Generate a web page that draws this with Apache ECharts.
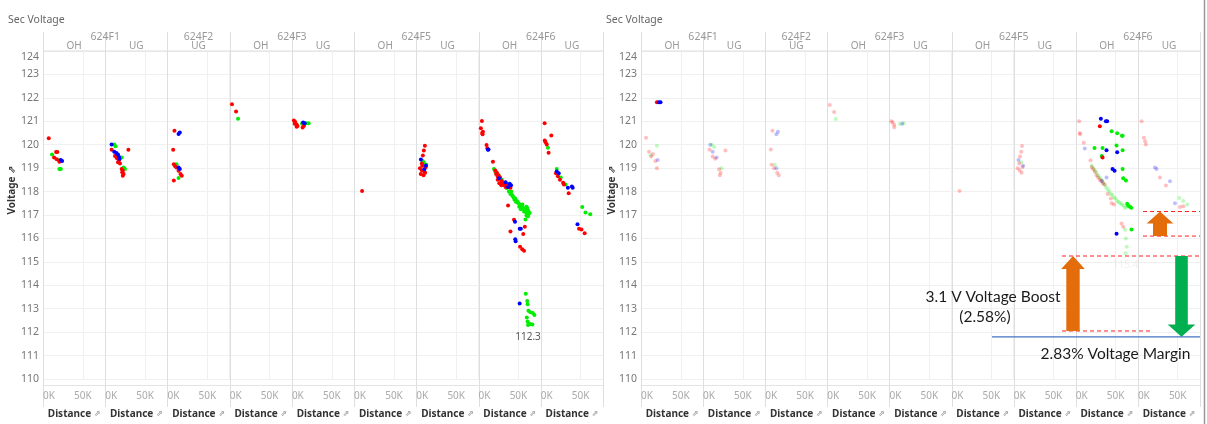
<!DOCTYPE html>
<html>
<head>
<meta charset="utf-8">
<script src="https://cdn.jsdelivr.net/npm/echarts@6/dist/echarts.min.js"></script>
<style>
  html, body { margin: 0; padding: 0; background: #fff; }
  #chart { width: 1207px; height: 424px; }
</style>
</head>
<body>
<div id="chart"></div>
<script>
// ---- categories --------------------------------------------------------
const facetFeeder = ['624F1', '624F1', '624F2', '624F3', '624F3', '624F5', '624F5', '624F6', '624F6'];
const facetType   = ['OH', 'UG', 'UG', 'OH', 'UG', 'OH', 'UG', 'OH', 'UG'];
const voltageRange  = [110, 124];   // V
const distanceRange = [0, 78];      // thousands of feet
const distanceTickStep = 50;

// ---- readings: [facet index, distance (K), secondary voltage] ----------
// Before: phases A (red), B (green), C (blue)
const phaseA_before = [
  [0,7.2,120.28],[0,16.4,119.69],[0,18,119.69],[0,13.9,119.45],[0,17.2,119.38],[0,20.5,119.27],
  [1,8,119.78],[1,12.2,119.52],[1,14.7,119.42],[1,17.3,119.34],[1,29,119.78],[1,16,119.25],[1,18.5,119.2],
  [1,20.6,118.96],[1,22,118.89],[1,21.3,118.82],[1,23,118.75],[1,22,118.68],
  [2,8.8,120.6],[2,7.2,119.78],[2,8,119.17],[2,9.7,119.08],[2,11.3,119.03],[2,13.9,118.89],[2,16.4,118.75],[2,18,118.68],[2,8,118.47],
  [3,2.9,121.73],[3,8,121.42],
  [4,2.5,121.03],[4,4.2,120.97],[4,5.9,120.86],[4,5.9,120.77],[4,13.5,120.74],[4,15.1,120.81],[4,3.5,120.9],[4,7,120.8],
  [5,10,118.02],
  [6,10.7,119.96],[6,9.4,119.75],[6,8.2,119.54],[6,6.9,119.2],[6,4.5,119.0],[6,7,118.9],[6,10,118.85],[6,12,119.05],
  [6,5.5,118.75],[6,9,118.7],[6,11,118.8],[6,7.5,119.1],
  [7,4.2,121.01],[7,2.9,120.7],[7,4.5,120.5],[7,5,120.45],[7,5.5,120.55],[7,10,119.99],[7,11,119.85],[7,18,119.27],
  [7,21,118.9],[7,23,118.8],[7,25,118.7],[7,27,118.6],[7,24,118.5],[7,28.5,118.27],[7,32,118.3],[7,34,118.2],[7,37,118.18],
  [7,40,118.16],[7,26,118.35],[7,22,118.75],[7,24,118.65],[7,29,118.45],[7,31,118.35],[7,33,118.25],[7,35,118.3],[7,38,118.25],
  [7,37,117.41],[7,44.4,116.8],[7,40,116.3],[7,58,116.5],[7,56,116.19],
  [7,52,115.65],[7,54.8,115.54],[7,57,115.47],
  [8,4.8,120.92],[8,13.2,120.39],[8,5,120.18],[8,6,120.1],[8,7.5,120.01],[8,9.8,119.66],[8,19,118.78],[8,21.5,118.65],
  [8,24,118.5],[8,28,118.38],[8,29,118.3],[8,35,117.93],[8,48,116.41],[8,51,116.38],[8,55,116.22]
];
const phaseB_before = [
  [0,11.3,119.58],[0,19.8,119.34],[0,20.5,118.96],[0,22.3,118.96],
  [1,11.3,120.01],[1,13,119.93],[1,15.5,119.57],[1,20.6,119.45],[1,23,119.03],[1,24.8,118.96],
  [2,11.3,119.17],[2,13.9,118.58],
  [3,10.5,121.11],
  [4,12.6,120.89],[4,17.6,120.92],[4,21,120.92],
  [6,9.4,119.24],[6,12.5,119.15],[6,8,119.3],
  [7,19.3,118.96],[7,21,118.85],[7,23,118.75],[7,26,118.55],[7,29,118.5],[7,22,118.8],[7,25,118.7],[7,31,118.4],[7,33,118.3],
  [7,35,118.15],[7,38,118.0],[7,40,117.9],[7,41,118.0],[7,43,117.8],[7,45,117.65],[7,47,117.55],[7,49,117.55],
  [7,42,117.85],[7,44,117.75],[7,46,117.7],[7,48,117.6],[7,50,117.5],[7,52,117.45],[7,54,117.35],[7,56,117.3],
  [7,53,117.25],[7,57,117.15],[7,59,117.25],[7,61,117.3],[7,64,117.1],[7,62,116.95],[7,60,116.98],
  [7,58,117.2],[7,60,117.1],[7,62,117.2],[7,63,117.05],[7,55,117.45],[7,51,117.35],[7,60,117.35],[7,58.8,116.81],
  [7,59.2,113.64],[7,61,113.33],[7,61.5,113.19],[7,62.5,112.91],[7,65,112.85],[7,68,112.82],[7,70,112.73],
  [7,60.5,112.63],[7,61.5,112.45],[7,63.5,112.36],[7,65.5,112.34],[7,67.5,112.33],[7,62,112.3],
  [8,9,119.87],[8,20,118.96],[8,25,118.6],[8,31,118.3],[8,52,117.34],[8,56,117.11],[8,62,117.03]
];
const phaseC_before = [
  [0,22.3,119.35],[0,23.9,119.31],
  [1,8,120.01],[1,11.3,119.70],[1,13.9,119.65],[1,17.3,119.48],[1,18,119.40],[1,16,119.58],
  [2,13.9,120.46],[2,15.5,120.52],[2,13.9,119.03],[2,15.5,118.96],
  [4,16,120.92],[4,14,120.95],
  [6,5.7,119.37],[6,12,119.11],[6,10,118.95],
  [7,11.7,119.78],[7,12.5,119.8],[7,25.6,118.57],[7,34,118.4],[7,39,118.33],[7,40.7,118.27],[7,37,118.19],
  [7,45.7,116.71],[7,51.6,116.41],[7,53,116.41],[7,46,115.96],[7,46.5,115.88],[7,51.5,113.22],
  [8,20,118.86],[8,22.5,118.78],[8,34,118.16],[8,39,118.22],[8,40,118.16],[8,46,116.61]
];

// After: earlier readings kept as a faded backdrop, plus the new readings
const phaseA_faded = [
  [0,6.3,120.3],[0,10,119.7],[0,13,119.5],[0,15,119.6],[0,18,119.3],[0,20,119.0],
  [1,8,119.78],[1,12,119.5],[1,15,119.4],[1,20,118.95],[1,22,118.8],[1,21,118.7],[1,28,119.75],
  [2,9,120.6],[2,7,119.8],[2,8,119.15],[2,11,119.0],[2,15,118.8],[2,17,118.7],
  [3,3,121.7],[3,8.5,121.4],
  [4,2.5,121.0],[4,4,120.95],[4,6,120.85],[4,6,120.75],
  [5,10,118.02],
  [6,10.5,119.95],[6,9.5,119.7],[6,8,119.5],[6,7,119.2],[6,5,119.0],[6,7.5,118.9],[6,10,118.8],[6,11,119.05],
  [7,4.2,121.0],[7,5,120.5],[7,5.5,120.45],[7,10,120.08],[7,18.5,119.34],[7,22,118.95],[7,26,118.7],[7,30,118.5],
  [7,34,118.35],[7,40,117.9],[7,45,117.5],[7,57.5,116.64],[7,59.6,116.5],
  [7,20,119.05],[7,24,118.85],[7,28,118.6],[7,32,118.45],[7,36,118.3],[7,44,117.7],[7,48,117.45],
  [8,4.6,121.0],[8,7.5,120.3],[8,9,120.15],[8,10,120.01],[8,27.7,118.6],[8,35.2,118.26],[8,52.9,117.34],[8,57,117.37]
];
const phaseB_faded = [
  [0,20,119.96],[0,12,119.55],
  [1,11,120.0],[1,14,119.9],[1,23,119.0],
  [2,12,119.15],
  [3,10.5,121.1],
  [4,13,120.88],[4,18,120.92],
  [6,9.5,119.25],
  [7,20,119.1],[7,24,118.9],[7,28,118.7],[7,32,118.5],[7,36,118.3],[7,40,118.1],[7,44,117.9],[7,48,117.75],
  [7,52,117.6],[7,56,117.5],[7,60,117.4],[7,64,117.35],[7,62,116.37],[7,63,116.0],[7,64,115.65],[7,62.6,115.37],
  [7,22,119.0],[7,26,118.8],[7,30,118.6],[7,34,118.4],[7,38,118.2],[7,42,118.0],[7,46,117.85],[7,50,117.7],
  [7,54,117.55],[7,58,117.45],[7,62,117.3],
  [8,52,117.73],[8,57,117.6],[8,62,117.45]
];
const phaseC_faded = [
  [0,21,119.35],
  [1,9,120.0],[1,12,119.7],[1,17,119.45],
  [2,14,120.45],[2,16,120.55],[2,14,119.0],
  [4,16,120.9],
  [6,6,119.35],[6,12,119.1],
  [7,11.3,119.84],[7,38.6,118.6],[7,33,118.45],
  [8,21.4,119.03],[8,23.5,118.96],[8,40.3,118.44],[8,46.6,117.5]
];
const phaseA_after = [
  [0,20,121.81],
  [7,30.2,120.79],[7,33.6,119.45]
];
const phaseB_after = [
  [7,45,120.58],[7,52,120.49],[7,58,120.38],[7,58.8,120.38],[7,23.5,119.86],[7,33.6,119.86],[7,51.2,119.97],
  [7,58.8,119.76],[7,32.7,119.52],[7,58.8,118.96],[7,59.6,118.57],[7,63,118.47],[7,64.6,117.48],[7,66,117.4],
  [7,68,117.35],[7,69.6,117.31],[7,70,116.38]
];
const phaseC_after = [
  [0,22.5,121.81],[0,24.5,121.81],
  [7,31.5,121.11],[7,37.8,121.0],[7,39.4,121.0],[7,38.6,119.76],[7,52,119.68],[7,46.2,118.96],[7,48.7,118.89],[7,51.2,116.2]
];

// ---- annotation levels (V) ---------------------------------------------
const boostLevels   = [112.05, 115.25];  // feeder OH boost, low -> high
const ugBoostLevels = [116.1, 117.15];   // UG boost, low -> high
const marginLevel   = 111.8;             // limit line
const boostText  = ['3.1 V Voltage Boost', '(2.58%)'];
const marginText = '2.83% Voltage Margin';

// ---- layout ------------------------------------------------------------
const FONT = "'Noto Sans', 'DejaVu Sans', sans-serif";
const panels = [
  { x0: 43,  width: 560, titleX: 8,   yNameX: 12 },
  { x0: 641, width: 559, titleX: 606, yNameX: 612 }
];
const plotTop = 51, plotHeight = 333;
const nFacets = facetType.length;
const colors = { A: '#ff0000', B: '#00ee00', C: '#0000ff' };

const panelSets = [
  [ { d: phaseB_before, c: colors.B, o: 1, label: true }, { d: phaseA_before, c: colors.A, o: 1, label: true }, { d: phaseC_before, c: colors.C, o: 1, label: true } ],
  [ { d: phaseB_faded, c: colors.B, o: 0.25, label: true, faded: true }, { d: phaseA_faded, c: colors.A, o: 0.25, label: true, faded: true },
    { d: phaseC_faded, c: colors.C, o: 0.25, label: true, faded: true },
    { d: phaseB_after, c: colors.B, o: 1 }, { d: phaseA_after, c: colors.A, o: 1 }, { d: phaseC_after, c: colors.C, o: 1 } ]
];
// the lowest reading of the 624F6 OH pane is labelled in each panel
const labelledFacet = 7;

const grids = [], xAxes = [], yAxes = [], series = [];
panels.forEach((p, pi) => {
  const fw = p.width / nFacets;
  let minV = Infinity;
  panelSets[pi].filter(s => s.label).forEach(s => s.d.forEach(d => { if (d[0] === labelledFacet && d[2] < minV) minV = d[2]; }));
  for (let f = 0; f < nFacets; f++) {
    const gi = pi * nFacets + f;
    grids.push({ left: p.x0 + f * fw, top: plotTop, width: fw, height: plotHeight });
    xAxes.push({
      type: 'value', gridIndex: gi, min: distanceRange[0], max: distanceRange[1], interval: distanceTickStep,
      offset: 6,
      axisLine: { show: true, lineStyle: { color: '#e4e4e4', width: 1 } },
      axisTick: { show: false },
      axisLabel: { formatter: v => v + 'K', color: '#aaa', fontSize: 10, fontFamily: FONT, margin: 6,
                   alignMinLabel: 'left', showMaxLabel: false },
      splitLine: { show: true, lineStyle: { color: '#f0f0f0', width: 1 } },
      name: 'Distance {i|⇗}', nameLocation: 'middle', nameGap: 24,
      nameTextStyle: { color: '#333', fontSize: 10, fontWeight: 'bold', fontFamily: FONT,
                       rich: { i: { color: '#999', fontSize: 8, fontFamily: "'DejaVu Sans', sans-serif" } } }
    });
    yAxes.push({
      type: 'value', gridIndex: gi, min: voltageRange[0], max: voltageRange[1], interval: 1,
      axisLine: { show: false }, axisTick: { show: false },
      axisLabel: { show: f === 0, color: '#777', fontSize: 10.5, fontFamily: FONT, margin: 4,
                   formatter: v => v === voltageRange[1] ? '{top|' + v + '}' : String(v),
                   rich: { top: { color: '#777', fontSize: 10.5, fontFamily: FONT, padding: [12, 0, 0, 0] } } },
      splitLine: { show: true, lineStyle: { color: '#f0f0f0', width: 1 } }
    });
    panelSets[pi].forEach(s => {
      const data = s.d.filter(d => d[0] === f).map(d => {
        const item = { value: [d[1], d[2]] };
        if (s.label && f === labelledFacet && d[2] === minV) {
          item.label = { show: true, position: 'bottom', distance: 5, formatter: d[2].toFixed(1),
                         color: s.faded ? '#c8c8c8' : '#555', fontSize: 10, fontFamily: FONT };
        }
        return item;
      });
      if (!data.length) return;
      series.push({
        type: 'scatter', xAxisIndex: gi, yAxisIndex: gi, data,
        symbol: 'circle', symbolSize: 4, silent: true,
        itemStyle: { color: s.c, opacity: s.o },
        label: { show: false }
      });
    });
  }
});

const chart = echarts.init(document.getElementById('chart'), null, { renderer: 'canvas' });
chart.setOption({
  animation: false,
  backgroundColor: '#fff',
  grid: grids, xAxis: xAxes, yAxis: yAxes, series
});

// ---- frame, headers and annotations -----------------------------------
const graphic = [];
const sepColor = '#dedede';
panels.forEach((p, pi) => {
  const fw = p.width / nFacets;
  graphic.push({ type: 'text', left: p.titleX, top: 15,
    style: { text: 'Sec Voltage', fill: '#666', font: `10.5px ${FONT}` } });
  graphic.push({ type: 'text', x: p.yNameX, y: 190, rotation: Math.PI / 2,
    style: { text: 'Voltage ⇗', fill: '#333', font: `bold 10px ${FONT}`, align: 'center', verticalAlign: 'middle' } });
  graphic.push({ type: 'line', shape: { x1: p.x0, y1: plotTop, x2: p.x0 + p.width, y2: plotTop },
    style: { stroke: sepColor, lineWidth: 1 } });
  for (let k = 0; k <= nFacets; k++) {
    const x = Math.round(p.x0 + k * fw) + 0.5;
    graphic.push({ type: 'line', shape: { x1: x, y1: 32, x2: x, y2: 407 },
      style: { stroke: sepColor, lineWidth: 1 } });
  }
  let f = 0;
  while (f < nFacets) {
    let g = f;
    while (g + 1 < nFacets && facetFeeder[g + 1] === facetFeeder[f]) g++;
    graphic.push({ type: 'text', x: p.x0 + (f + g + 1) / 2 * fw, y: 37,
      style: { text: facetFeeder[f], fill: '#999', font: `10.5px ${FONT}`, align: 'center', verticalAlign: 'middle' } });
    f = g + 1;
  }
  for (let i = 0; i < nFacets; i++) {
    graphic.push({ type: 'text', x: p.x0 + (i + 0.5) * fw, y: 46.5,
      style: { text: facetType[i], fill: '#999', font: `10px ${FONT}`, align: 'center', verticalAlign: 'middle' } });
  }
});
graphic.push({ type: 'line', shape: { x1: 1204.5, y1: 0, x2: 1204.5, y2: 424 }, style: { stroke: '#999', lineWidth: 1.5 } });

// annotations on the right panel
const refGrid = nFacets * 2 - 1;
const py = v => chart.convertToPixel({ gridIndex: refGrid }, [0, v])[1];
const rx = panels[1].x0;
const dashed = (xa, xb, v) => ({ type: 'line', z: 50, shape: { x1: xa, y1: py(v), x2: xb, y2: py(v) },
  style: { stroke: '#ff2020', lineWidth: 1, lineDash: [4, 3] } });
const upArrow = (cx, vLow, vHigh, sh, hh, hl, fill) => {
  const yb = py(vLow), yt = py(vHigh);
  return { type: 'polygon', z: 60, shape: { points: [
    [cx - sh, yb], [cx - sh, yt + hl], [cx - hh, yt + hl], [cx, yt], [cx + hh, yt + hl], [cx + sh, yt + hl], [cx + sh, yb]] },
    style: { fill } };
};
const downArrow = (cx, vHigh, vLow, sh, hh, hl, fill) => {
  const yt = py(vHigh), yb = py(vLow);
  return { type: 'polygon', z: 60, shape: { points: [
    [cx - sh, yt], [cx - sh, yb - hl], [cx - hh, yb - hl], [cx, yb], [cx + hh, yb - hl], [cx + sh, yb - hl], [cx + sh, yt]] },
    style: { fill } };
};
graphic.push(dashed(rx + 421, rx + 559, boostLevels[1]));
graphic.push(dashed(rx + 421, rx + 512, boostLevels[0]));
graphic.push(dashed(rx + 502, rx + 559, ugBoostLevels[1]));
graphic.push(dashed(rx + 502, rx + 559, ugBoostLevels[0]));
graphic.push({ type: 'line', z: 50, shape: { x1: rx + 351, y1: py(marginLevel), x2: rx + 559, y2: py(marginLevel) },
  style: { stroke: '#4472c4', lineWidth: 1.2 } });
graphic.push(upArrow(rx + 432, boostLevels[0], boostLevels[1], 6.7, 11.8, 13, '#e46c0a'));
graphic.push(upArrow(rx + 519, ugBoostLevels[0], ugBoostLevels[1], 7, 13.3, 12, '#e46c0a'));
graphic.push(downArrow(rx + 540.5, boostLevels[1], marginLevel, 6.3, 13.8, 12.4, '#00b050'));
graphic.push({ type: 'text', z: 70, x: rx + 352, y: py(boostLevels[0]) - 34,
  style: { text: boostText[0], fill: '#1a1a1a', font: `15.5px Lato, ${FONT}`, align: 'center', verticalAlign: 'middle' } });
graphic.push({ type: 'text', z: 70, x: rx + 344, y: py(boostLevels[0]) - 14,
  style: { text: boostText[1], fill: '#1a1a1a', font: `15.5px Lato, ${FONT}`, align: 'center', verticalAlign: 'middle' } });
graphic.push({ type: 'text', z: 70, x: rx + 474.5, y: py(marginLevel) + 17,
  style: { text: marginText, fill: '#1a1a1a', font: `15.5px Lato, ${FONT}`, align: 'center', verticalAlign: 'middle' } });

chart.setOption({ graphic });
</script>
</body>
</html>
